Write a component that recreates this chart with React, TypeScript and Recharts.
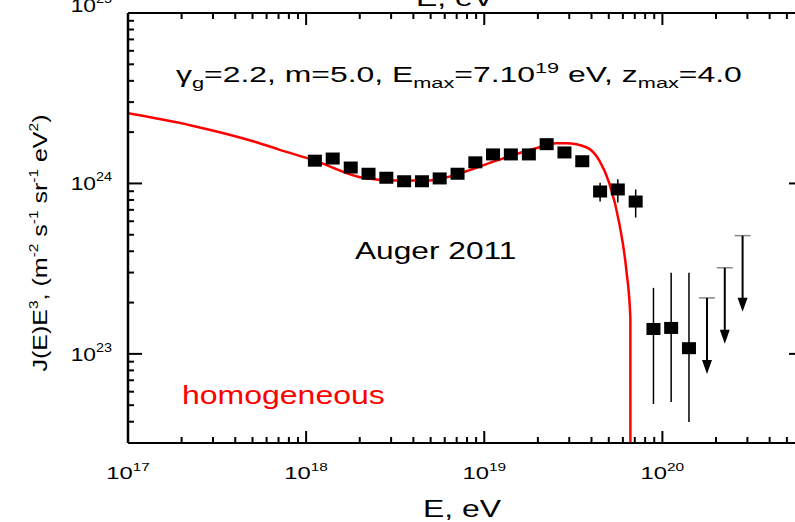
import { ComposedChart, Line, Scatter, XAxis, YAxis, ErrorBar, Customized } from "recharts";

const FONT = "'Liberation Sans', Arial, Helvetica, sans-serif";

// homogeneous model curve (E in eV, J(E)E^3)
const modelE = [
  1e17, 2.26e17, 5.31e17, 7.05e17, 1.12e18, 2.07e18, 3.21e18, 4.91e18, 7.93e18, 1.17e19,
  2.04e19, 2.54e19, 2.89e19, 3.74e19, 4.43e19, 5.04e19, 5.73e19, 6.28e19, 6.61e19, 6.62e19,
];
const modelJ = [
  2.58e24, 2.19e24, 1.74e24, 1.58e24, 1.36e24, 1.08e24, 1.04e24, 1.04e24, 1.18e24, 1.36e24,
  1.63e24, 1.72e24, 1.72e24, 1.63e24, 1.36e24, 1.0e24, 5.82e23, 3.08e23, 1.63e23, 1e21,
];

// Auger 2011 points
const augerE = [
  1.12e18, 1.41e18, 1.78e18, 2.24e18, 2.82e18, 3.55e18, 4.47e18, 5.62e18, 7.08e18, 8.91e18,
  1.12e19, 1.41e19, 1.78e19, 2.24e19, 2.82e19, 3.55e19, 4.47e19, 5.62e19, 7.08e19, 8.91e19,
  1.12e20, 1.41e20,
];
const augerJ = [
  1.36e24, 1.4e24, 1.24e24, 1.14e24, 1.08e24, 1.03e24, 1.03e24, 1.07e24, 1.14e24, 1.33e24,
  1.48e24, 1.48e24, 1.48e24, 1.7e24, 1.52e24, 1.35e24, 8.97e23, 9.22e23, 7.83e23, 1.4e23,
  1.42e23, 1.08e23,
];
const augerLow = [
  null, null, null, null, null, null, null, null, null, null,
  null, null, null, null, null, null, 7.83e23, 7.73e23, 6.31e23, 5.08e22,
  5.22e22, 3.98e22,
];
const augerHigh = [
  null, null, null, null, null, null, null, null, null, null,
  null, null, null, null, null, null, 1.01e24, 1.06e24, 9.22e23, 2.44e23,
  2.99e23, 2.99e23,
];

// upper limits
const limitE = [1.78e20, 2.24e20, 2.82e20];
const limitJ = [2.13e23, 3.2e23, 4.94e23];

const xDecades = [1e17, 1e18, 1e19, 1e20];
const yDecades = [1e22, 1e23, 1e24, 1e25];
const minorSteps = [1, 2, 3, 4, 5, 6, 7, 8, 9];
const xDomain = [1e17, 6e20];
const yDomain = [3e22, 1e25];

const modelData = modelE.map((e, i) => ({ e, j: modelJ[i] }));
const augerData = augerE.map((e, i) => ({
  e,
  j: augerJ[i],
  err: augerLow[i] == null ? [0, 0] : [augerJ[i] - augerLow[i]!, augerHigh[i]! - augerJ[i]],
}));
const limitData = limitE.map((e, i) => ({ e, j: limitJ[i] }));

const logTicks = (decades: number[], dom: number[]) =>
  decades
    .flatMap((d) => minorSteps.map((m) => m * d))
    .filter((v) => v >= dom[0] * 0.999 && v <= dom[1] * 1.001);

const xTicks = logTicks(xDecades, xDomain);
const yTicks = logTicks(yDecades, yDomain);

const isMajor = (v: number) => Math.abs(Math.log10(v) - Math.round(Math.log10(v))) < 1e-6;
const expOf = (v: number) => Math.round(Math.log10(v));

// built-in tick lines are drawn inward with negative size (minor length);
// majors get an extra segment from the custom tick
const MINOR = 6;
const MAJOR_EXTRA = 6;
const TICK_W = 2;
const tickLineStyle = { stroke: "#000", strokeWidth: TICK_W };
const axisLineStyle = { stroke: "#000", strokeWidth: 2 };

const BottomTick = (props: any) => {
  const { x, y, payload } = props;
  if (!isMajor(payload.value)) return null;
  return (
    <g transform={`translate(${x},${y})`}>
      <path d={`M0,0V${-MAJOR_EXTRA}`} stroke="#000" strokeWidth={TICK_W} />
      <text transform={`translate(0,${MINOR + 36}) scale(1.4,1)`} textAnchor="middle" fontSize={17} fontFamily={FONT} fill="#000">
        10<tspan dy={-8} fontSize={11}>{expOf(payload.value)}</tspan>
      </text>
    </g>
  );
};

const TopTick = (props: any) => {
  const { x, y, payload } = props;
  if (!isMajor(payload.value)) return null;
  return <path d={`M${x},${y}V${y + MAJOR_EXTRA}`} stroke="#000" strokeWidth={TICK_W} />;
};

const LeftTick = (props: any) => {
  const { x, y, payload } = props;
  if (!isMajor(payload.value)) return null;
  const exp = expOf(payload.value);
  const lift = exp === 25 ? -8 : 0;
  return (
    <g transform={`translate(${x},${y})`}>
      <path d={`M0,0H${MAJOR_EXTRA + 2}`} stroke="#000" strokeWidth={TICK_W} />
      <text transform={`translate(${-MINOR - 16},${7 + lift}) scale(1.2,1)`} textAnchor="end" fontSize={19} fontFamily={FONT} fill="#000">
        10<tspan dy={-9} fontSize={12}>{exp}</tspan>
      </text>
    </g>
  );
};

const RightTick = (props: any) => {
  const { x, y, payload } = props;
  if (!isMajor(payload.value)) return null;
  return <path d={`M${x},${y}H${x - MAJOR_EXTRA}`} stroke="#000" strokeWidth={TICK_W} />;
};

const Square = (props: any) => (
  <rect x={props.cx - 7} y={props.cy - 6} width={14} height={12} fill="#000" />
);

const UpperLimit = (props: any) => {
  const { cx, cy } = props;
  return (
    <g>
      <line x1={cx - 8} y1={cy} x2={cx + 8} y2={cy} stroke="#888" strokeWidth={1.5} />
      <line x1={cx} y1={cy} x2={cx} y2={cy + 64} stroke="#000" strokeWidth={2} />
      <path d={`M${cx - 5},${cy + 62} L${cx + 5},${cy + 62} L${cx},${cy + 76} Z`} fill="#000" />
    </g>
  );
};

const Texts = () => (
  <g fontFamily={FONT} fill="#000">
    <text transform="translate(176,82) scale(1.45,1)" fontSize={22}>
      γ<tspan dy={6} fontSize={15}>g</tspan>
      <tspan dy={-6}>=2.2, m=5.0, E</tspan>
      <tspan dy={6} fontSize={15}>max</tspan>
      <tspan dy={-6}>=7.10</tspan>
      <tspan dy={-9} fontSize={15}>19</tspan>
      <tspan dy={9}> eV, z</tspan>
      <tspan dy={6} fontSize={15}>max</tspan>
      <tspan dy={-6}>=4.0</tspan>
    </text>
    <text transform="translate(355,259) scale(1.32,1)" fontSize={24}>Auger 2011</text>
    <text transform="translate(182,404) scale(1.28,1)" fontSize={25} fill="#ff0000">homogeneous</text>
    <text transform="translate(462,517) scale(1.33,1)" fontSize={24} textAnchor="middle">E, eV</text>
    <text transform="translate(455,6) scale(1.33,1)" fontSize={24} textAnchor="middle">E, eV</text>
    <text transform="translate(47,243) rotate(-90) scale(1.19,1)" fontSize={21} textAnchor="middle">
      J(E)E<tspan dy={-9} fontSize={13}>3</tspan>
      <tspan dy={9}>, (m</tspan>
      <tspan dy={-9} fontSize={13}>-2</tspan>
      <tspan dy={9}> s</tspan>
      <tspan dy={-9} fontSize={13}>-1</tspan>
      <tspan dy={9}> sr</tspan>
      <tspan dy={-9} fontSize={13}>-1</tspan>
      <tspan dy={9}> eV</tspan>
      <tspan dy={-9} fontSize={13}>2</tspan>
      <tspan dy={9}>)</tspan>
    </text>
  </g>
);

export default function App() {
  return (
    <div style={{ position: "absolute", left: 0, top: 0, width: 795, height: 522, overflow: "hidden", background: "#fff" }}>
      <ComposedChart width={820} height={522} margin={{ top: 8, right: 14, bottom: 49, left: 68 }}>
        <XAxis
          xAxisId="b"
          dataKey="e"
          type="number"
          scale="log"
          domain={xDomain}
          allowDataOverflow
          ticks={xTicks}
          interval={0}
          height={30}
          tickSize={-MINOR}
          tickMargin={0}
          tickLine={tickLineStyle}
          tick={<BottomTick />}
          axisLine={axisLineStyle}
        />
        <XAxis
          xAxisId="t"
          orientation="top"
          dataKey="e"
          type="number"
          scale="log"
          domain={xDomain}
          allowDataOverflow
          ticks={xTicks}
          interval={0}
          height={5}
          tickSize={-MINOR}
          tickMargin={0}
          tickLine={tickLineStyle}
          tick={<TopTick />}
          axisLine={axisLineStyle}
        />
        <YAxis
          yAxisId="l"
          type="number"
          scale="log"
          domain={yDomain}
          allowDataOverflow
          ticks={yTicks}
          interval={0}
          width={60}
          tickSize={-MINOR}
          tickMargin={0}
          tickLine={tickLineStyle}
          tick={<LeftTick />}
          axisLine={{ stroke: "#000", strokeWidth: 2.5 }}
        />
        <YAxis
          yAxisId="r"
          orientation="right"
          type="number"
          scale="log"
          domain={yDomain}
          allowDataOverflow
          ticks={yTicks}
          interval={0}
          width={5}
          tickSize={-MINOR}
          tickMargin={0}
          tickLine={tickLineStyle}
          tick={<RightTick />}
          axisLine={axisLineStyle}
        />
        <Line
          xAxisId="b"
          yAxisId="l"
          data={modelData}
          dataKey="j"
          type="monotone"
          stroke="#ff0000"
          strokeWidth={2.5}
          dot={false}
          isAnimationActive={false}
        />
        <Scatter xAxisId="b" yAxisId="l" data={augerData} dataKey="j" shape={<Square />} isAnimationActive={false}>
          <ErrorBar dataKey="err" direction="y" width={0} stroke="#000" strokeWidth={1.5} />
        </Scatter>
        <Scatter xAxisId="b" yAxisId="l" data={limitData} dataKey="j" shape={<UpperLimit />} isAnimationActive={false} />
        <Customized component={<Texts />} />
      </ComposedChart>
    </div>
  );
}
